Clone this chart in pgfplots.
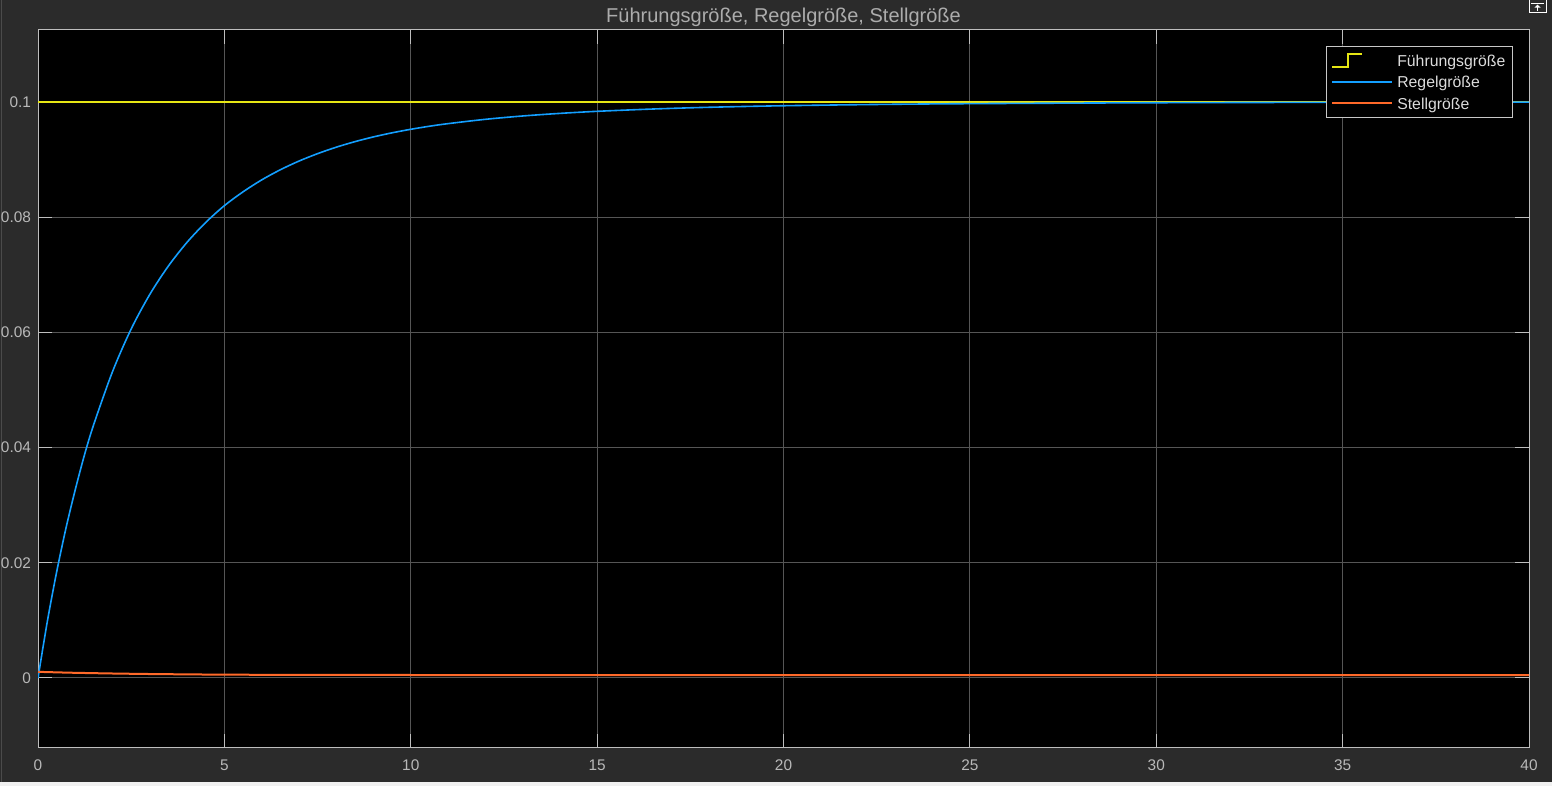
\documentclass[border=0pt]{standalone}
\usepackage{pgfplots}
\pgfplotsset{compat=1.18}
\usepackage{fontspec}
\setmainfont{Liberation Sans}
\definecolor{bgc}{RGB}{43,43,43}
\definecolor{stripc}{RGB}{240,240,240}
\definecolor{edgec}{RGB}{75,75,75}
\definecolor{axc}{RGB}{190,190,190}
\definecolor{gridc}{RGB}{85,85,85}
\definecolor{tickc}{RGB}{185,185,185}
\definecolor{titlec}{RGB}{172,172,172}
\definecolor{legc}{RGB}{200,200,200}
\definecolor{legtc}{RGB}{220,220,220}
\definecolor{cyel}{RGB}{230,230,20}
\definecolor{cblue}{RGB}{19,159,255}
\definecolor{corange}{RGB}{255,105,41}
\pgfplotsset{
  stepimage/.style={legend image code/.code={\draw[##1] (0pt,-3.1pt) -- (8pt,-3.1pt) -- (8pt,3.1pt) -- (15pt,3.1pt); \path[draw=none,fill=none] (0pt,0pt) -- (30pt,0pt);}},
  lineimage/.style={legend image code/.code={\draw[##1] (0pt,0pt) -- (30pt,0pt);}},
}
\begin{document}
\begin{tikzpicture}
\path[use as bounding box, fill=bgc] (0pt,0pt) rectangle (776pt,393pt);
\fill[stripc] (0pt,0pt) rectangle (776pt,2pt);
\draw[edgec, line width=0.6pt] (0.8pt,2pt) -- (0.8pt,393pt);
% scope icon top right
\draw[white, line width=0.5pt] (764.5pt,386.8pt) rectangle (773pt,393.6pt);
\draw[white, line width=0.5pt] (765.5pt,391.2pt) -- (772pt,391.2pt);
\draw[white, line width=0.6pt] (768.75pt,387.5pt) -- (768.75pt,389.6pt);
\fill[white] (767.2pt,389.2pt) -- (770.3pt,389.2pt) -- (768.75pt,390.7pt) -- cycle;
\begin{axis}[
  at={(19pt,19pt)}, anchor=south west,
  scale only axis, width=745.5pt, height=359pt,
  xmin=0, xmax=40, ymin=-0.012153, ymax=0.1125,
  axis background/.style={fill=black},
  axis line style={draw=axc, line width=0.5pt},
  xtick={0,5,10,15,20,25,30,35,40},
  xticklabels={0,5,10,15,20,25,30,35,40},
  ytick={0,0.02,0.04,0.06,0.08,0.1},
  yticklabels={0,0.02,0.04,0.06,0.08,0.1},
  tick align=inside, tick pos=both,
  major tick length=7pt,
  tick style={draw=axc, line width=0.5pt},
  grid=major, major grid style={draw=gridc, line width=0.5pt},
  ticklabel style={font=\fontsize{7.7}{9}\selectfont, text=tickc},
  xticklabel style={yshift=-2.4pt},
  title={Führungsgröße, Regelgröße, Stellgröße},
  every axis title/.style={font=\fontsize{10}{12}\selectfont, text=titlec, anchor=base, at={(0.5,1)}, yshift=3.65pt},
  legend cell align=left,
  legend style={at={(1,1)}, anchor=north east, xshift=-7.85pt, yshift=-8pt,
    fill=black, draw=legc, line width=0.5pt, text=legtc,
    font=\fontsize{7.9}{9}\selectfont, inner xsep=2.65pt, inner ysep=1.8pt,
    row sep=0pt, column sep=0.8pt,
    nodes={inner sep=1.1pt, text height=7.2pt, text depth=1.2pt}},
]
\addplot[cyel, line width=1pt, stepimage]
  coordinates {(0,0.1) (40,0.1)};
\addlegendentry{Führungsgröße}
\addplot[cblue, line width=0.8pt, lineimage, smooth, tension=0.5]
  coordinates {
  (0,0) (0.25,0.0098) (0.5,0.0184) (0.75,0.0260) (1,0.0327) (1.25,0.0388)
  (1.5,0.0441) (2,0.0532) (2.5,0.0606) (3,0.0666) (3.5,0.07154) (4,0.07565)
  (4.5,0.07909) (5,0.08200) (5.5,0.08440) (6,0.08647) (6.5,0.08823)
  (7,0.08974) (7.5,0.09103) (8,0.09215) (8.5,0.09311) (9,0.09394)
  (9.5,0.09465) (10,0.09526) (10.5,0.09579) (11,0.09624) (12,0.09699)
  (13,0.09757) (14,0.09802) (15,0.09838) (16.5,0.09878) (18,0.09908)
  (20,0.09935) (22.5,0.09957) (25,0.09971) (30,0.09987) (35,0.09994) (40,0.09997)};
\addlegendentry{Regelgröße}
\addplot[corange, line width=1pt, lineimage, smooth, tension=0.5]
  coordinates {
  (0,0.00107) (0.5,0.00098) (1,0.00090) (2,0.00078) (3,0.00069) (4,0.00063)
  (5,0.00058) (7,0.00054) (10,0.00052) (15,0.00051) (20,0.0005) (40,0.0005)};
\addlegendentry{Stellgröße}
\end{axis}
\end{tikzpicture}
\end{document}
